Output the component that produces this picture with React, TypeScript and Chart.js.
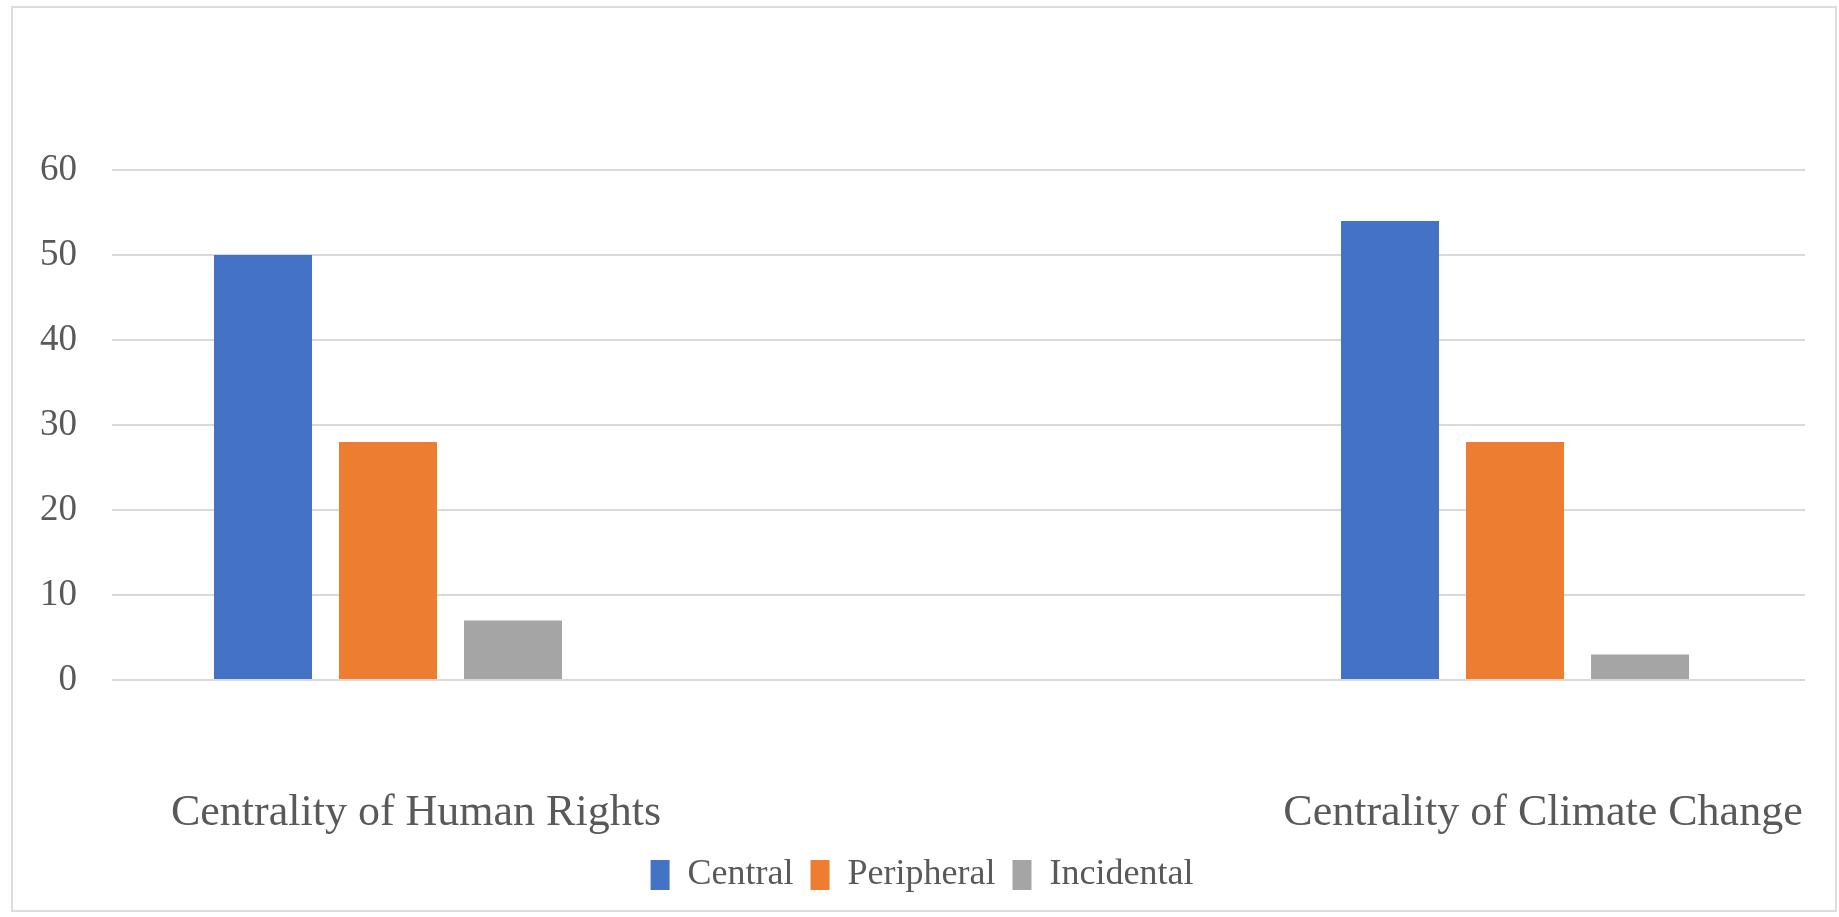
import React, { useEffect, useRef } from "react";
import { Chart, registerables } from "chart.js";

Chart.register(...registerables);

const categories = ["Centrality of Human Rights", "Centrality of Climate Change"];
const seriesNames = ["Central", "Peripheral", "Incidental"];
const centralValues = [50, 54];
const peripheralValues = [28, 28];
const incidentalValues = [7, 3];
const seriesColors = ["#4472C4", "#ED7D31", "#A5A5A5"];
const yTicks = [0, 10, 20, 30, 40, 50, 60];

const FONT = "'Liberation Serif', 'Times New Roman', serif";

export default function App() {
  const canvasRef = useRef<HTMLCanvasElement | null>(null);

  useEffect(() => {
    const canvas = canvasRef.current;
    if (!canvas) return;
    const toPoints = (vals: number[]) => vals.map((v, i) => ({ x: i, y: v }));
    const seriesValues = [centralValues, peripheralValues, incidentalValues];

    const chart = new Chart(canvas, {
      type: "bar",
      data: {
        datasets: seriesNames.map((name, k) => ({
          label: name,
          data: toPoints(seriesValues[k]),
          backgroundColor: seriesColors[k],
          borderWidth: 0,
          categoryPercentage: 0.3328,
          barPercentage: 0.784,
        })),
      },
      options: {
        animation: false,
        responsive: false,
        maintainAspectRatio: false,
        layout: { padding: { left: 39, right: 34, top: 170, bottom: 14 } },
        plugins: {
          tooltip: { enabled: false },
          legend: {
            position: "bottom",
            labels: {
              font: { family: FONT, size: 36 },
              color: "#595959",
              boxWidth: 19,
              boxHeight: 30,
              padding: 17,
            },
          },
        },
        scales: {
          x: {
            type: "linear",
            min: -0.2449,
            max: 1.2573,
            offset: false,
            grid: { display: false, drawTicks: false },
            border: { display: false },
            afterBuildTicks: (scale: any) => {
              scale.ticks = categories.map((_, i) => ({ value: i }));
            },
            afterFit: (scale: any) => {
              scale.height = 160;
              scale.paddingLeft = 0;
              scale.paddingRight = 0;
            },
            ticks: {
              autoSkip: false,
              maxRotation: 0,
              padding: 107,
              labelOffset: 28,
              font: { family: FONT, size: 44 },
              color: "#595959",
              callback: (value: any) => categories[Math.round(Number(value))] ?? "",
            },
          },
          y: {
            min: 0,
            max: 60,
            afterBuildTicks: (scale: any) => {
              scale.ticks = yTicks.map((v) => ({ value: v }));
            },
            afterFit: (scale: any) => {
              scale.width = 73;
            },
            grid: { color: "#d9d9d9", lineWidth: 2, drawTicks: false },
            border: { display: false },
            ticks: {
              padding: 35,
              font: { family: FONT, size: 37 },
              color: "#595959",
            },
          },
        },
      },
    });
    return () => chart.destroy();
  }, []);

  return (
    <div
      style={{
        position: "fixed",
        left: 0,
        top: 0,
        width: 1839,
        height: 917,
        background: "#ffffff",
      }}
    >
      <div
        style={{
          position: "absolute",
          left: 11,
          top: 6,
          width: 1826,
          height: 906,
          border: "2px solid #dcdcdc",
          boxSizing: "border-box",
          pointerEvents: "none",
        }}
      />
      <canvas
        ref={canvasRef}
        width={1839}
        height={917}
        style={{ position: "absolute", left: 0, top: 0, width: 1839, height: 917 }}
      />
    </div>
  );
}
